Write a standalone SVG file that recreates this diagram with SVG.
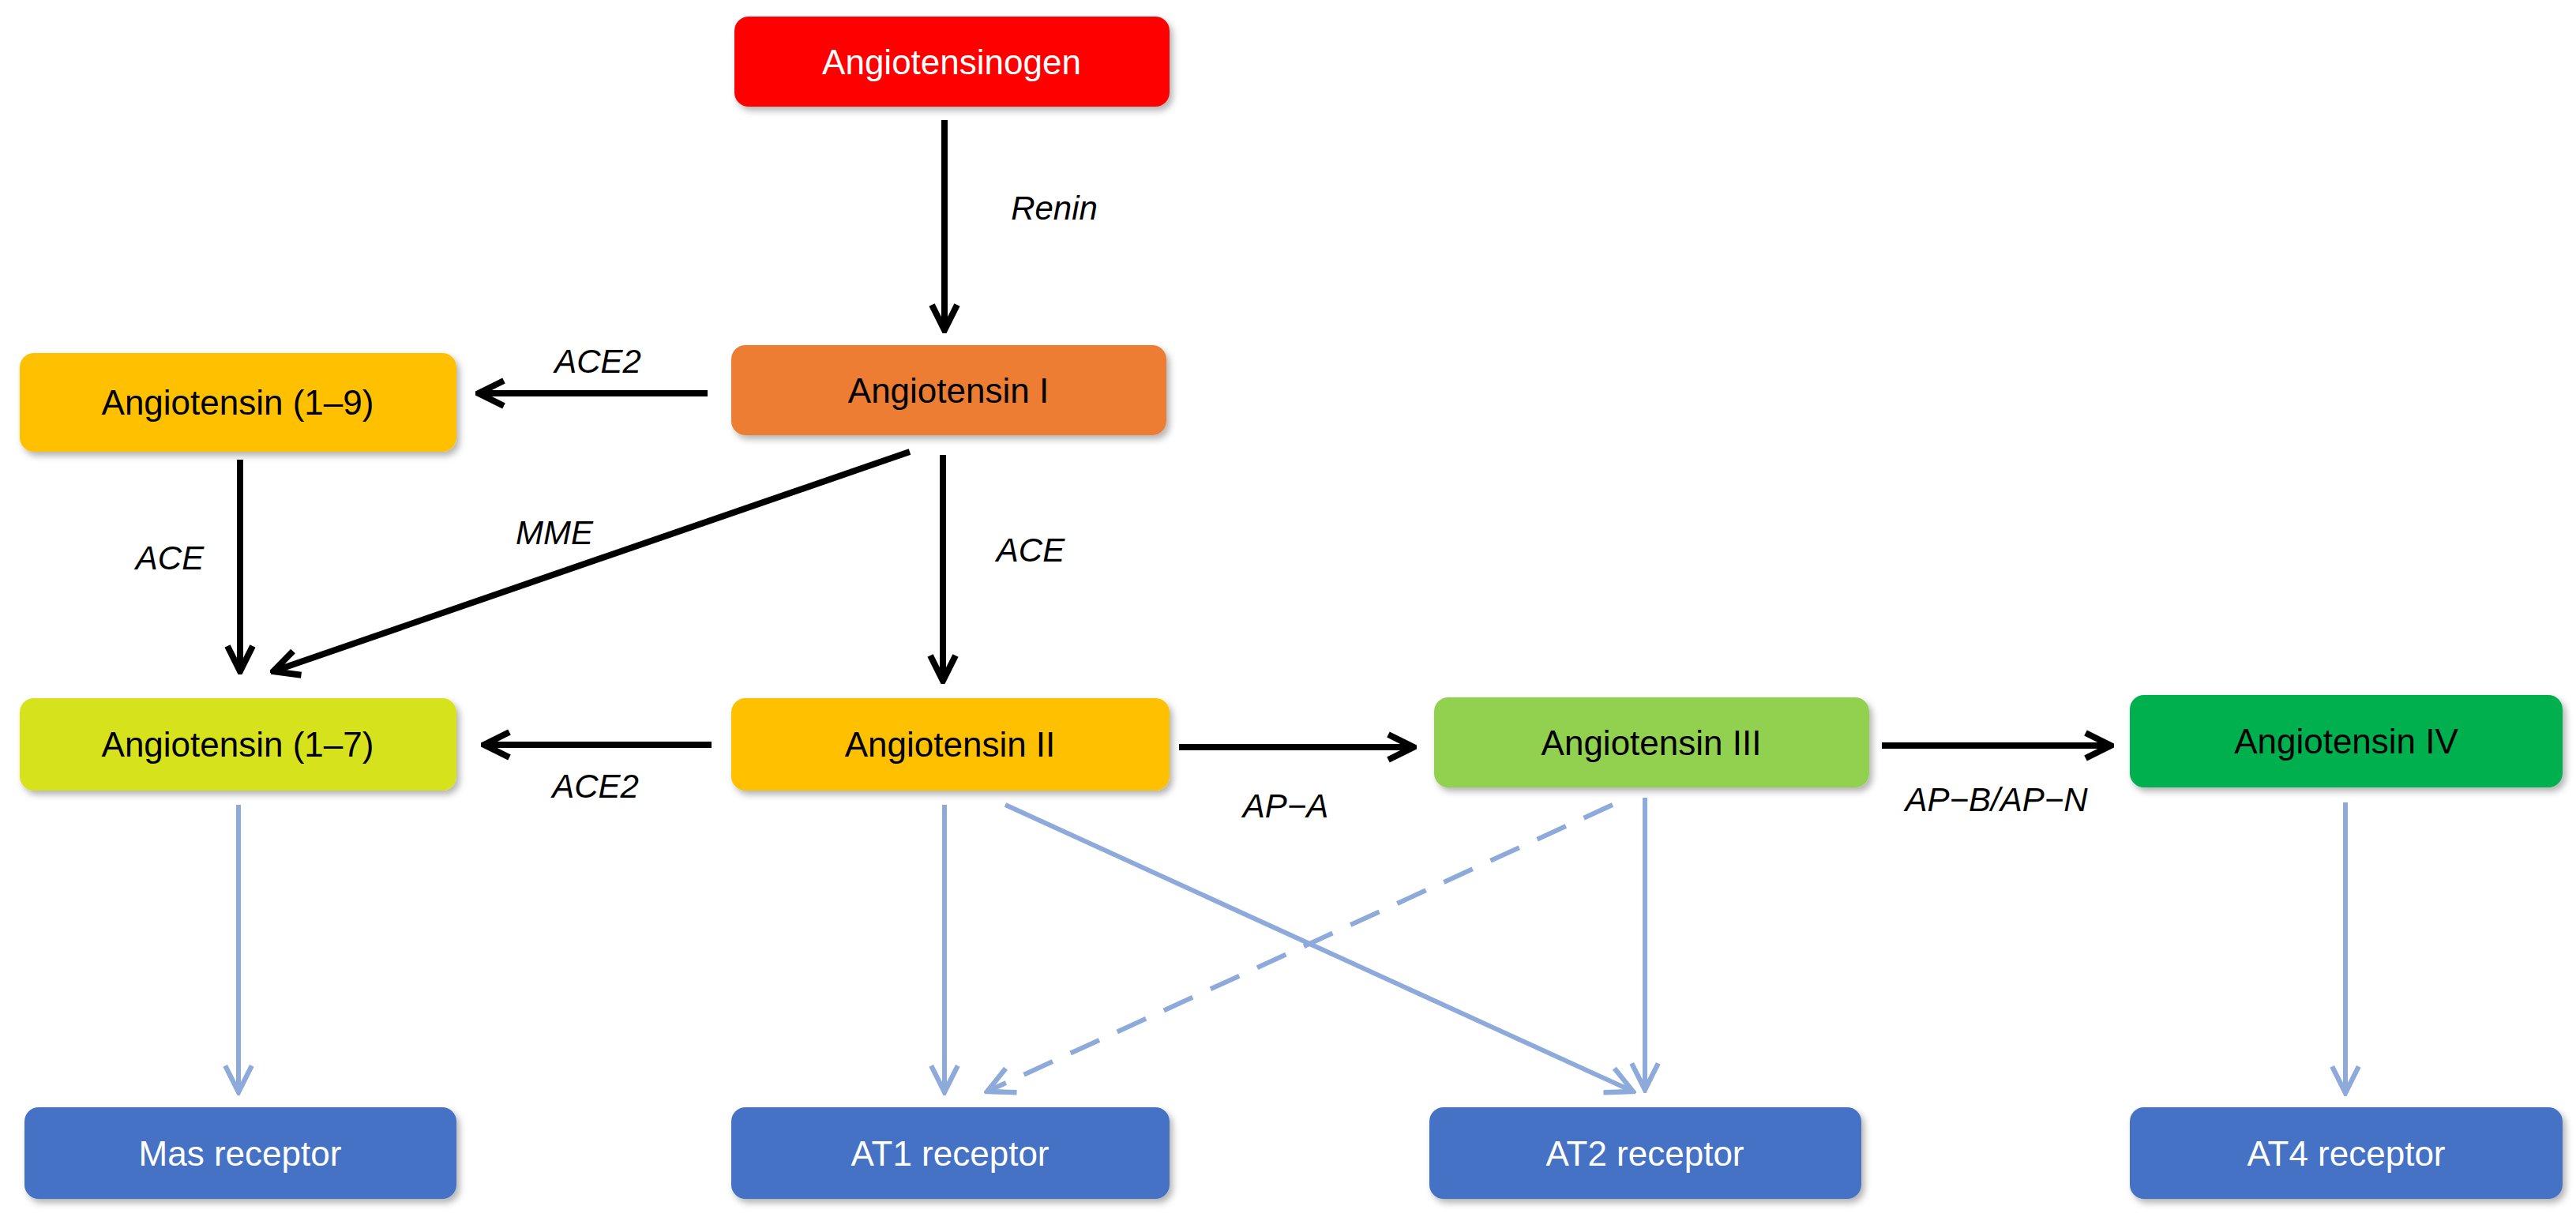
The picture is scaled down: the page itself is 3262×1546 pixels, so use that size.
<svg xmlns="http://www.w3.org/2000/svg" width="3262" height="1546" viewBox="0 0 3262 1546">
<style>
.box{stroke:none;filter:url(#sh)}
.t{font-family:"Liberation Sans",Arial,sans-serif;font-size:44px;text-anchor:middle;dominant-baseline:central}
.w{fill:#fff}
.lbl{font-family:"Liberation Sans",Arial,sans-serif;font-size:42px;font-style:italic;text-anchor:middle}
.k{stroke:#000;stroke-width:8;fill:none;marker-end:url(#ak)}
.b{stroke:#8eaadb;stroke-width:6;fill:none;marker-end:url(#ab)}
</style>
<defs>
<filter id="sh" x="-5%" y="-10%" width="115%" height="130%"><feDropShadow dx="4" dy="5" stdDeviation="4" flood-opacity="0.3"/></filter>
<marker id="ak" viewBox="0 0 10 10" refX="9" refY="5" markerWidth="5" markerHeight="6" orient="auto" markerUnits="strokeWidth"><path d="M1,1 L9,5 L1,9" fill="none" stroke="#000" stroke-width="2"/></marker>
<marker id="ab" viewBox="0 0 10 10" refX="9" refY="5" markerWidth="7" markerHeight="8" orient="auto" markerUnits="strokeWidth"><path d="M1,1 L9,5 L1,9" fill="none" stroke="#8eaadb" stroke-width="1.5"/></marker>
</defs>
<rect width="3262" height="1546" fill="#fff"/>
<g id="connectors">
<line class="k" x1="1196" y1="152" x2="1196" y2="418"/>
<line class="k" x1="896" y1="498" x2="606" y2="498"/>
<line class="k" x1="304" y1="582" x2="304" y2="850"/>
<line class="k" x1="1152" y1="572" x2="346" y2="850"/>
<line class="k" x1="1194" y1="576" x2="1194" y2="862"/>
<line class="k" x1="901" y1="943" x2="613" y2="943"/>
<line class="k" x1="1493" y1="946" x2="1790" y2="946"/>
<line class="k" x1="2383" y1="944" x2="2673" y2="944"/>
<line class="b" x1="302" y1="1019" x2="302" y2="1383"/>
<line class="b" x1="1196" y1="1019" x2="1196" y2="1383"/>
<line class="b" x1="1273" y1="1019" x2="2068" y2="1382"/>
<line class="b" x1="2083" y1="1010" x2="2083" y2="1380"/>
<line class="b" x1="2042" y1="1019" x2="1250" y2="1382" stroke-dasharray="40,25"/>
<line class="b" x1="2970" y1="1016" x2="2970" y2="1384"/>
<text class="lbl" x="1335" y="278">Renin</text>
<text class="lbl" x="757" y="472">ACE2</text>
<text class="lbl" x="215" y="721">ACE</text>
<text class="lbl" x="702" y="689">MME</text>
<text class="lbl" x="1305" y="711">ACE</text>
<text class="lbl" x="754" y="1010">ACE2</text>
<text class="lbl" x="1628" y="1035">AP−A</text>
<text class="lbl" x="2528" y="1027">AP−B/AP−N</text>
</g>
<g id="angiotensinogen"><rect class="box" x="930" y="21" width="551" height="114" rx="18" fill="#ff0000"/><text class="t w" x="1205" y="78">Angiotensinogen</text></g>
<g id="angiotensin-i"><rect class="box" x="926" y="437" width="551" height="114" rx="18" fill="#ed7d31"/><text class="t" x="1201" y="494">Angiotensin I</text></g>
<g id="angiotensin-1-9"><rect class="box" x="25" y="447" width="553" height="125" rx="18" fill="#ffc000"/><text class="t" x="301" y="509">Angiotensin (1–9)</text></g>
<g id="angiotensin-1-7"><rect class="box" x="25" y="884" width="553" height="117" rx="18" fill="#d6e21f"/><text class="t" x="301" y="942">Angiotensin (1–7)</text></g>
<g id="angiotensin-ii"><rect class="box" x="926" y="884" width="555" height="117" rx="18" fill="#ffc000"/><text class="t" x="1203" y="942">Angiotensin II</text></g>
<g id="angiotensin-iii"><rect class="box" x="1816" y="883" width="551" height="114" rx="18" fill="#92d050"/><text class="t" x="2091" y="940">Angiotensin III</text></g>
<g id="angiotensin-iv"><rect class="box" x="2697" y="880" width="548" height="117" rx="18" fill="#00b050"/><text class="t" x="2971" y="938">Angiotensin IV</text></g>
<g id="mas-receptor"><rect class="box" x="31" y="1402" width="547" height="116" rx="18" fill="#4472c4"/><text class="t w" x="304" y="1460">Mas receptor</text></g>
<g id="at1-receptor"><rect class="box" x="926" y="1402" width="555" height="116" rx="18" fill="#4472c4"/><text class="t w" x="1203" y="1460">AT1 receptor</text></g>
<g id="at2-receptor"><rect class="box" x="1810" y="1402" width="547" height="116" rx="18" fill="#4472c4"/><text class="t w" x="2083" y="1460">AT2 receptor</text></g>
<g id="at4-receptor"><rect class="box" x="2697" y="1402" width="548" height="116" rx="18" fill="#4472c4"/><text class="t w" x="2971" y="1460">AT4 receptor</text></g>
</svg>
